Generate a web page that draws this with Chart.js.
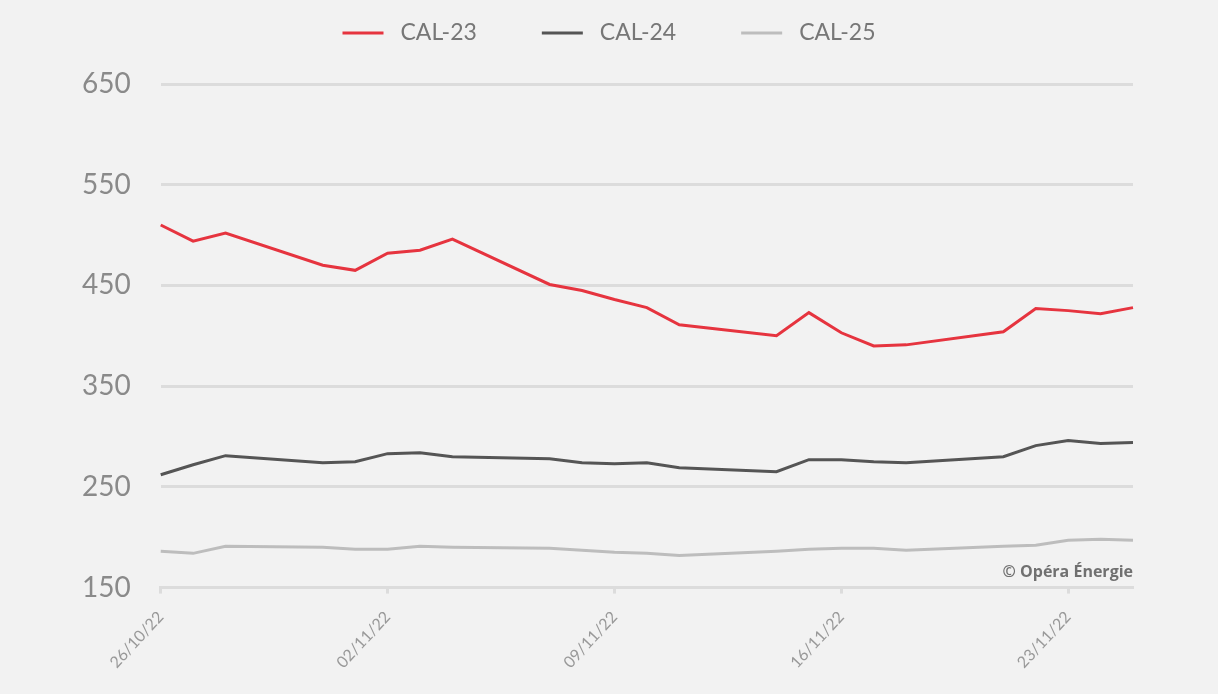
<!DOCTYPE html>
<html>
<head>
<meta charset="utf-8">
<script src="https://cdn.jsdelivr.net/npm/chart.js@4/dist/chart.umd.min.js"></script>
<style>
    html, body { margin: 0; padding: 0; background: #f2f2f2; }
    .wrap { width: 1218px; height: 694px; position: relative; }
</style>
</head>
<body>
<div class="wrap"><canvas id="lineChart"></canvas></div>
<script>
// Daily axis, weekends left empty (null) so lines join trading days
const dates = [
    '26/10/22', '27/10/22', '28/10/22', '29/10/22', '30/10/22', '31/10/22',
    '01/11/22', '02/11/22', '03/11/22', '04/11/22', '05/11/22', '06/11/22',
    '07/11/22', '08/11/22', '09/11/22', '10/11/22', '11/11/22', '12/11/22',
    '13/11/22', '14/11/22', '15/11/22', '16/11/22', '17/11/22', '18/11/22',
    '19/11/22', '20/11/22', '21/11/22', '22/11/22', '23/11/22', '24/11/22',
    '25/11/22'
];
const cal23 = [510, 494, 502, null, null, 470, 465, 482, 485, 496, null, null, 451, 445, 436, 428, 411, null, null, 400, 423, 403, 390, 391, null, null, 404, 427, 425, 422, 428];
const cal24 = [262, 272, 281, null, null, 274, 275, 283, 284, 280, null, null, 278, 274, 273, 274, 269, null, null, 265, 277, 277, 275, 274, null, null, 280, 291, 296, 293, 294];
const cal25 = [186, 184, 191, null, null, 190, 188, 188, 191, 190, null, null, 189, 187, 185, 184, 182, null, null, 186, 188, 189, 189, 187, null, null, 191, 192, 197, 198, 197];
const yTicks = [150, 250, 350, 450, 550, 650];

const colors = { red: '#e6343f', dark: '#555555', light: '#bdbdbd', grid: '#dcdcdc', text: '#8a8a8a' };

// Legend drawn by hand: line swatch, wider gap to text, centred at the top
const topLegend = {
    id: 'topLegend',
    afterDraw(chart) {
        const { ctx } = chart;
        const sets = chart.data.datasets;
        const lineW = 41, gap = 17, itemGap = 65, y = 33;
        ctx.save();
        ctx.font = "23px Lato, sans-serif";
        const widths = sets.map(d => ctx.measureText(d.label).width);
        const total = widths.reduce((a, w) => a + lineW + gap + w, 0) + itemGap * (sets.length - 1);
        let x = (chart.width - total) / 2;
        sets.forEach((d, i) => {
            ctx.fillStyle = d.borderColor;
            ctx.fillRect(x, y - 1.5, lineW, 3);
            x += lineW + gap;
            ctx.fillStyle = '#777777';
            ctx.textBaseline = 'middle';
            ctx.fillText(d.label, x, y);
            x += widths[i] + itemGap;
        });
        ctx.restore();
    }
};

const watermark = {
    id: 'watermark',
    afterDraw(chart) {
        const { ctx, chartArea } = chart;
        ctx.save();
        ctx.font = "bold 16px 'Open Sans', sans-serif";
        ctx.fillStyle = '#707070';
        ctx.textAlign = 'right';
        ctx.textBaseline = 'middle';
        ctx.fillText('© Opéra Énergie', chartArea.right, chartArea.bottom - 15);
        ctx.restore();
    }
};

function line(label, data, color) {
    return {
        label, data,
        borderColor: color,
        backgroundColor: color,
        borderWidth: 3,
        pointRadius: 0,
        tension: 0,
        spanGaps: true
    };
}

Chart.defaults.font.family = "Lato, sans-serif";
Chart.defaults.color = colors.text;

new Chart(document.getElementById('lineChart'), {
    type: 'line',
    data: {
        labels: dates,
        datasets: [
            line('CAL-23', cal23, colors.red),
            line('CAL-24', cal24, colors.dark),
            line('CAL-25', cal25, colors.light)
        ]
    },
    options: {
        responsive: true,
        maintainAspectRatio: false,
        animation: false,
        layout: { padding: { left: 52, right: 85, top: 84, bottom: 8 } },
        plugins: {
            tooltip: { enabled: false },
            legend: { display: false }
        },
        scales: {
            x: {
                offset: false,
                grid: {
                    drawOnChartArea: false,
                    tickLength: 6,
                    tickWidth: 3,
                    tickColor: colors.grid
                },
                border: { color: colors.grid, width: 3 },
                ticks: {
                    autoSkip: false,
                    minRotation: 47,
                    maxRotation: 47,
                    padding: 14,
                    font: { size: 16 },
                    color: '#999999',
                    callback(val, i) { return i % 7 === 0 ? dates[i] : null; }
                }
            },
            y: {
                min: yTicks[0],
                max: yTicks[yTicks.length - 1],
                afterBuildTicks(axis) { axis.ticks = yTicks.map(v => ({ value: v })); },
                grid: { color: colors.grid, lineWidth: 3, drawTicks: false },
                border: { display: false },
                ticks: { padding: 30, font: { size: 28 }, color: colors.text }
            }
        }
    },
    plugins: [topLegend, watermark]
});
</script>
</body>
</html>
